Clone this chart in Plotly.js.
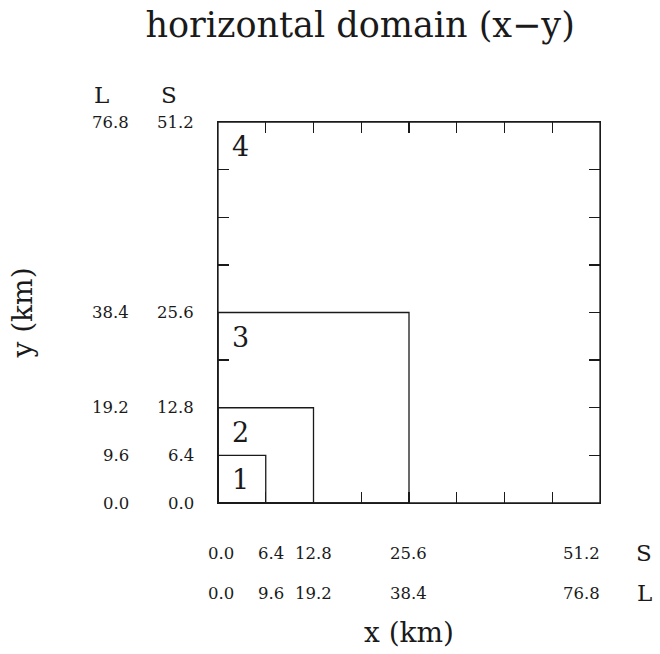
<!DOCTYPE html>
<html>
<head>
<meta charset="utf-8">
<script src="https://cdn.plot.ly/plotly-3.0.1.min.js"></script>
<style>html,body{margin:0;padding:0;background:#fff;}#chart{width:660px;height:654px;}</style>
</head>
<body>
<div id="chart"></div>
<script>
// Domain sizes (km) of the nested grids, S configuration
const domainLabels = ["1", "2", "3", "4"];
const domainSizesS = [6.4, 12.8, 25.6, 51.2];
// Tick label values: S and L configurations
const tickValuesS = [0.0, 6.4, 12.8, 25.6, 51.2];
const tickLabelsS = ["0.0", "6.4", "12.8", "25.6", "51.2"];
const tickLabelsL = ["0.0", "9.6", "19.2", "38.4", "76.8"];
const configNames = ["S", "L"];

const FONT = "DejaVu Serif, Liberation Serif, serif";
const INK = "#1a1a1a";

const traces = domainSizesS.map((s, i) => ({
  type: "scatter",
  mode: "lines",
  x: [0, s, s, 0, 0],
  y: [0, 0, s, s, 0],
  line: {color: INK, width: 1.3},
  hoverinfo: "skip",
  showlegend: false,
  name: "domain " + domainLabels[i]
}));

const annotations = [];
// domain number labels
domainSizesS.forEach((s, i) => {
  annotations.push({
    xref: "x", yref: "y", x: 3.0, y: s - 3.3,
    text: domainLabels[i], showarrow: false,
    font: {family: FONT, size: 27, color: INK},
    xanchor: "center", yanchor: "middle"
  });
});
// bottom tick label rows (x shifts tuned for layout only)
const bottomShift = [3, 5, 0, -1, -19];
const TICKSIZE = 16.5;
tickValuesS.forEach((v, i) => {
  annotations.push({
    xref: "x", yref: "y", x: v, y: 0, xshift: bottomShift[i], yshift: -50,
    text: tickLabelsS[i], showarrow: false,
    font: {family: FONT, size: TICKSIZE, color: INK},
    xanchor: "center", yanchor: "middle"
  });
  annotations.push({
    xref: "x", yref: "y", x: v, y: 0, xshift: bottomShift[i], yshift: -90,
    text: tickLabelsL[i], showarrow: false,
    font: {family: FONT, size: TICKSIZE, color: INK},
    xanchor: "center", yanchor: "middle"
  });
  // left tick label columns
  annotations.push({
    xref: "x", yref: "y", x: 0, y: v, xshift: -22,
    text: tickLabelsS[i], showarrow: false,
    font: {family: FONT, size: TICKSIZE, color: INK},
    xanchor: "right", yanchor: "middle"
  });
  annotations.push({
    xref: "x", yref: "y", x: 0, y: v, xshift: -87,
    text: tickLabelsL[i], showarrow: false,
    font: {family: FONT, size: TICKSIZE, color: INK},
    xanchor: "right", yanchor: "middle"
  });
});
// row / column headers
const HDR = 23;
annotations.push({xref: "x", yref: "y", x: 51.2, y: 0, xshift: 44, yshift: -50,
  text: configNames[0], showarrow: false, font: {family: FONT, size: HDR, color: INK},
  xanchor: "center", yanchor: "middle"});
annotations.push({xref: "x", yref: "y", x: 51.2, y: 0, xshift: 44, yshift: -90,
  text: configNames[1], showarrow: false, font: {family: FONT, size: HDR, color: INK},
  xanchor: "center", yanchor: "middle"});
annotations.push({xref: "x", yref: "y", x: 0, y: 51.2, xshift: -49, yshift: 27,
  text: configNames[0], showarrow: false, font: {family: FONT, size: HDR, color: INK},
  xanchor: "center", yanchor: "middle"});
annotations.push({xref: "x", yref: "y", x: 0, y: 51.2, xshift: -117, yshift: 27,
  text: configNames[1], showarrow: false, font: {family: FONT, size: HDR, color: INK},
  xanchor: "center", yanchor: "middle"});

const axisCommon = {
  range: [0, 51.2],
  tick0: 0, dtick: 6.4,
  ticks: "inside", ticklen: 11, tickwidth: 1.3, tickcolor: INK,
  mirror: "ticks",
  showline: true, linecolor: INK, linewidth: 1.3,
  showgrid: false, zeroline: false,
  showticklabels: false,
  fixedrange: true
};

const layout = {
  width: 660, height: 654,
  margin: {l: 218, r: 60, t: 122, b: 151, pad: 0},
  paper_bgcolor: "#fff", plot_bgcolor: "#fff",
  title: {
    text: "horizontal domain (x\u2212y)",
    font: {family: FONT, size: 35, color: INK},
    xref: "paper", x: 0.372, xanchor: "center",
    yref: "container", y: 0.962, yanchor: "middle"
  },
  xaxis: Object.assign({}, axisCommon, {
    title: {text: "x (km)", font: {family: FONT, size: 28, color: INK}, standoff: 119}
  }),
  yaxis: Object.assign({}, axisCommon, {
    title: {text: "y (km)", font: {family: FONT, size: 28, color: INK}, standoff: 176}
  }),
  annotations: annotations,
  showlegend: false
};

Plotly.newPlot("chart", traces, layout, {displayModeBar: false, staticPlot: true});
</script>
</body>
</html>
